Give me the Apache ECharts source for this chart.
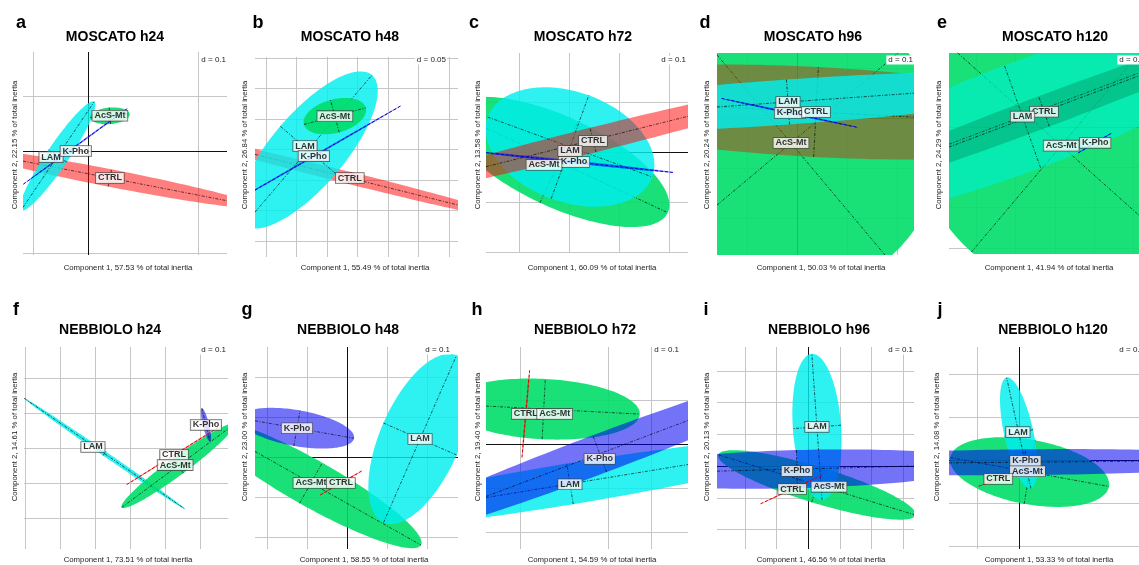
<!DOCTYPE html>
<html>
<head>
<meta charset="utf-8">
<script src="https://cdn.jsdelivr.net/npm/echarts@6/dist/echarts.min.js"></script>
<style>
html, body { margin: 0; padding: 0; background: #fff; }
#chart { width: 1139px; height: 565px; }
</style>
</head>
<body>
<div id="chart"></div>
<script>
// ---- data (axis units = multiples of d) ----
var panelLetters = ['a', 'b', 'c', 'd', 'e', 'f', 'g', 'h', 'i', 'j'];
var panelTitles = ['MOSCATO h24', 'MOSCATO h48', 'MOSCATO h72', 'MOSCATO h96', 'MOSCATO h120',
                   'NEBBIOLO h24', 'NEBBIOLO h48', 'NEBBIOLO h72', 'NEBBIOLO h96', 'NEBBIOLO h120'];
var comp1Pct = ['57.53', '55.49', '60.09', '50.03', '41.94', '73.51', '58.55', '54.59', '46.56', '53.33'];
var comp2Pct = ['22.15', '26.84', '13.58', '20.24', '24.29', '14.61', '23.00', '19.40', '20.13', '14.08'];
var dScale = ['0.1', '0.05', '0.1', '0.1', '0.1', '0.1', '0.1', '0.1', '0.1', '0.2'];
var groups = ['CTRL', 'LAM', 'K-Pho', 'AcS-Mt'];

var xRanges = [[-1.18, 2.53], [-2.36, 4.3], [-3.66, 0.38], [-1.6, 2.34], [-2.7, 2.16],
               [-4.03, 1.8], [-2.3, 2.78], [-1.78, 2.84], [-2.87, 3.34], [-1.67, 2.88]];
var yRanges = [[-1.89, 1.8], [-3.54, 3.02], [-2.02, 1.98], [-2.74, 1.3], [-3.16, 1.83],
               [-2.89, 2.89], [-2.3, 2.75], [-2.4, 2.22], [-2.62, 3.75], [-2.07, 2.63]];

// grey grid lines and black origin lines
var gridX = [[-1, 2], [-2, -1, 0, 1, 2, 3, 4], [-3, -2, -1, 0], [-1, 1, 2], [-2, -1, 0, 1, 2],
             [-4, -3, -2, -1, 0, 1], [-2, -1, 1, 2], [-1, 1, 2], [-2, -1, 1, 2, 3], [-1]];
var gridY = [[1, -1.85], [3, 2, 1, 0, -1, -2, -3], [1, -1, -2], [1, -1, -2], [1, -1, -2, -3],
             [2, 1, 0, -1, -2], [2, 1, -1, -2], [1, -1, -2], [3, 2, 1, -1, -2], [2, 1, -1, -2]];
var axisX = [[0], [], [], [0], [], [], [0], [], [0], [0]];
var axisY = [[0], [], [0], [0], [0], [], [0], [0], [0], [0]];

// ellipses: [group, cx, cy, semi-major, semi-minor, angle deg]  (drawing order)
var ellipses = [
  [[0, 0.4, -0.49, 2.8, 0.16, -11], [1, -0.55, -0.09, 1.19, 0.2, 56], [3, 0.4, 0.64, 0.36, 0.15, 5], [2, -0.22, 0.09, 1.18, 0.015, 36]],
  [[0, 0.75, -0.95, 6, 0.2, -14], [1, -0.62, -0.03, 3.23, 1.2, 49.5], [3, 0.26, 1.08, 1.05, 0.55, 15], [2, -0.43, -0.23, 3.3, 0.03, 30]],
  [[3, -2.2, -0.2, 2.4, 0.9, -25], [1, -1.98, 0.1, 1.75, 1.1, -20], [0, -1.52, 0.24, 5, 0.25, 14], [2, -1.9, -0.2, 2, 0.03, -6]],
  [[3, -0.12, -0.5, 3.02, 2.96, -50], [0, 0.38, 0.12, 6, 0.9, -3], [1, -0.18, 0.32, 6, 0.45, 4], [2, -0.14, 0.1, 1.4, 0.02, -12]],
  [[3, 0.17, -0.47, 4, 3.5, -41], [1, -0.82, 0.25, 7, 1.35, 20], [0, -0.27, 0.38, 7, 0.4, 20], [2, 1.04, -0.4, 0.5, 0.02, 30]],
  [[1, -1.73, -0.16, 2.79, 0.07, -34.6], [3, 0.37, -0.51, 2.0, 0.26, 36.5], [2, 1.17, 0.66, 0.49, 0.09, -76], [0, 0.26, -0.2, 1.6, 0.02, 32]],
  [[3, -0.9, -0.65, 3.16, 0.58, -29.4], [2, -1.25, 0.72, 1.45, 0.45, -10], [1, 1.83, 0.45, 2.28, 1.0, 66.4], [0, -0.15, -0.65, 0.6, 0.02, 30]],
  [[3, -0.46, 0.8, 2.2, 0.69, -3], [1, 0.14, -0.91, 6, 0.47, 9.3], [2, 0.82, -0.22, 6, 0.45, 20.6], [0, -0.87, 0.69, 1.0, 0.02, 85]],
  [[3, 0.28, -0.6, 3.25, 0.57, -17], [1, 0.28, 1.23, 2.31, 0.76, 94], [2, -0.35, -0.1, 6, 0.6, 1.5], [0, -0.5, -0.73, 1.1, 0.02, 25]],
  [[3, 0.26, -0.28, 1.93, 0.75, -10], [1, 0.0, 0.63, 1.32, 0.35, 102.7], [2, 0.16, -0.05, 6, 0.3, 0.5], [0, -0.49, -0.44, 0.5, 0.02, 20]]
];

// class labels: [group, x, y]
var labelPos = [
  [[0, 0.4, -0.49], [1, -0.67, -0.11], [2, -0.22, 0.0], [3, 0.4, 0.64]],
  [[1, -0.72, 0.1], [2, -0.43, -0.23], [0, 0.75, -0.95], [3, 0.26, 1.08]],
  [[0, -1.52, 0.22], [1, -1.98, 0.02], [2, -1.9, -0.2], [3, -2.5, -0.26]],
  [[1, -0.18, 0.32], [2, -0.14, 0.1], [0, 0.38, 0.12], [3, -0.12, -0.5]],
  [[0, -0.27, 0.37], [1, -0.82, 0.25], [3, 0.17, -0.47], [2, 1.04, -0.4]],
  [[1, -2.06, 0.03], [2, 1.17, 0.66], [0, 0.26, -0.2], [3, 0.29, -0.49]],
  [[1, 1.83, 0.45], [2, -1.25, 0.72], [3, -0.9, -0.65], [0, -0.15, -0.65]],
  [[0, -0.87, 0.69], [3, -0.21, 0.69], [2, 0.82, -0.34], [1, 0.14, -0.92]],
  [[1, 0.28, 1.23], [2, -0.35, -0.16], [0, -0.5, -0.73], [3, 0.66, -0.66]],
  [[1, -0.02, 0.65], [2, 0.16, -0.02], [3, 0.21, -0.26], [0, -0.49, -0.44]]
];

// ---- layout / styling ----
var plotBoxes = [[23, 52, 204, 203], [255, 57, 203, 200], [486, 53, 202, 200], [717, 53, 197, 202], [949, 53, 196, 201],
                 [24, 347, 204, 202], [255, 347, 203, 202], [486, 347, 202, 202], [717, 347, 197, 202], [949, 347, 196, 202]];
var letterXY = [[21, 23], [258, 23], [474, 23], [705, 23], [942, 23], [16, 310], [247, 310], [477, 310], [706, 310], [940, 310]];
var titleX = [115, 350, 583, 813, 1055, 110, 348, 585, 819, 1053];
var xNameX = [128, 365, 592, 821, 1049, 128, 364, 592, 821, 1049];
var yNameX = [15, 245, 478, 707, 939, 15, 245, 478, 707, 937];
var dRight = [227, 447, 687, 914, 1145, 227, 451, 680, 914, 1145];

var groupFill = ['rgba(255,0,0,0.5)', 'rgba(0,238,238,0.82)', 'rgba(0,0,240,0.55)', 'rgba(0,222,105,0.9)'];
var groupLine = ['#e00000', '#00b8c8', '#0000e0', '#00a040'];
// per-panel fill tweaks so the overlaps read like the printed figure
var fillOverride = {
  3: { 0: 'rgba(213,36,0,0.45)' },
  4: { 1: 'rgba(0,240,200,0.7)', 0: 'rgba(0,110,60,0.3)' }
};
var FONT = '"Liberation Sans", Arial, sans-serif';

function clipPoly(pts, r) {
  var bounds = [[0, r.x0, 1], [0, r.x1, -1], [1, r.y0, 1], [1, r.y1, -1]];
  var out = pts;
  bounds.forEach(function (bd) {
    var k = bd[0], lim = bd[1], s = bd[2];
    var inp = out;
    out = [];
    if (!inp.length) return;
    var prev = inp[inp.length - 1];
    inp.forEach(function (cur) {
      var ci = s * (cur[k] - lim) >= 0, pi = s * (prev[k] - lim) >= 0;
      if (ci !== pi) {
        var t = (lim - prev[k]) / (cur[k] - prev[k]);
        out.push([prev[0] + t * (cur[0] - prev[0]), prev[1] + t * (cur[1] - prev[1])]);
      }
      if (ci) out.push(cur);
      prev = cur;
    });
  });
  return out;
}

function clipSeg(p, q, r) {
  var t0 = 0, t1 = 1, dx = q[0] - p[0], dy = q[1] - p[1];
  var P = [-dx, dx, -dy, dy], Q = [p[0] - r.x0, r.x1 - p[0], p[1] - r.y0, r.y1 - p[1]];
  for (var i = 0; i < 4; i++) {
    if (P[i] === 0) { if (Q[i] < 0) return null; }
    else {
      var t = Q[i] / P[i];
      if (P[i] < 0) { if (t > t1) return null; if (t > t0) t0 = t; }
      else { if (t < t0) return null; if (t < t1) t1 = t; }
    }
  }
  return [[p[0] + t0 * dx, p[1] + t0 * dy], [p[0] + t1 * dx, p[1] + t1 * dy]];
}

function rectOf(cs) {
  return { x0: cs.x, y0: cs.y, x1: cs.x + cs.width, y1: cs.y + cs.height };
}

function gridRenderer(p, lines) {
  return function (params, api) {
    var l = lines[params.dataIndex];
    var a, b;
    if (l.dir === 'v') { a = api.coord([l.v, yRanges[p][0]]); b = api.coord([l.v, yRanges[p][1]]); }
    else { a = api.coord([xRanges[p][0], l.v]); b = api.coord([xRanges[p][1], l.v]); }
    var x1 = a[0], y1 = a[1], x2 = b[0], y2 = b[1];
    if (l.dir === 'v') { x1 = x2 = Math.round(x1) + 0.5; } else { y1 = y2 = Math.round(y1) + 0.5; }
    return {
      type: 'line',
      shape: { x1: x1, y1: y1, x2: x2, y2: y2 },
      style: { stroke: l.axis ? '#111' : '#c6c6c6', lineWidth: 1 }
    };
  };
}

function ellipseRenderer(p) {
  return function (params, api) {
    var e = ellipses[p][params.dataIndex];
    var r = rectOf(params.coordSys);
    var gi = e[0], cx = e[1], cy = e[2], a = e[3], b = e[4], th = e[5] * Math.PI / 180;
    var ct = Math.cos(th), st = Math.sin(th);
    function at(u, v) { return api.coord([cx + u * ct - v * st, cy + u * st + v * ct]); }
    var ring = [];
    for (var k = 0; k < 160; k++) {
      var f = 2 * Math.PI * k / 160;
      ring.push(at(a * Math.cos(f), b * Math.sin(f)));
    }
    var children = [];
    var poly = clipPoly(ring, r);
    var fill = (fillOverride[p] && fillOverride[p][gi]) || groupFill[gi];
    if (poly.length > 2) children.push({ type: 'polygon', shape: { points: poly }, style: { fill: fill } });
    var thin = b < 0.05;
    var segs = [[at(-a, 0), at(a, 0)]];
    if (!thin) segs.push([at(0, -b), at(0, b)]);
    segs.forEach(function (s) {
      var c = clipSeg(s[0], s[1], r);
      if (!c) return;
      children.push({
        type: 'line',
        shape: { x1: c[0][0], y1: c[0][1], x2: c[1][0], y2: c[1][1] },
        style: thin
          ? { stroke: groupLine[gi], lineWidth: 1, lineDash: [3, 2] }
          : { stroke: 'rgba(0,0,0,0.8)', lineWidth: 0.8, lineDash: [3, 1.5, 1, 1.5] }
      });
    });
    return { type: 'group', children: children };
  };
}

var grids = [], xAxes = [], yAxes = [], series = [], graphics = [];

plotBoxes.forEach(function (box, p) {
  grids.push({ left: box[0], top: box[1], width: box[2], height: box[3] });
  xAxes.push({ type: 'value', gridIndex: p, min: xRanges[p][0], max: xRanges[p][1], show: false });
  yAxes.push({ type: 'value', gridIndex: p, min: yRanges[p][0], max: yRanges[p][1], show: false });

  var lines = [];
  gridX[p].forEach(function (v) { lines.push({ dir: 'v', v: v, axis: false }); });
  gridY[p].forEach(function (v) { lines.push({ dir: 'h', v: v, axis: false }); });
  axisX[p].forEach(function (v) { lines.push({ dir: 'v', v: v, axis: true }); });
  axisY[p].forEach(function (v) { lines.push({ dir: 'h', v: v, axis: true }); });

  series.push({
    type: 'custom', xAxisIndex: p, yAxisIndex: p, silent: true, z: 1,
    renderItem: gridRenderer(p, lines),
    data: lines.map(function (l) { return l.dir === 'v' ? [l.v, yRanges[p][0]] : [xRanges[p][0], l.v]; })
  });
  series.push({
    type: 'custom', xAxisIndex: p, yAxisIndex: p, silent: true, z: 2,
    renderItem: ellipseRenderer(p),
    data: ellipses[p].map(function (e) { return [e[1], e[2]]; })
  });
  series.push({
    type: 'scatter', xAxisIndex: p, yAxisIndex: p, silent: true, z: 5,
    symbolSize: 1, itemStyle: { color: 'rgba(0,0,0,0)' },
    label: {
      show: true, position: 'inside', formatter: '{b}',
      fontFamily: FONT, fontSize: 9, fontWeight: 'bold', color: '#000',
      backgroundColor: '#fff', borderColor: '#444', borderWidth: 0.8, padding: [1, 2, 0, 2]
    },
    data: labelPos[p].map(function (l) { return { name: groups[l[0]], value: [l[1], l[2]] }; })
  });

  var row = p < 5 ? 0 : 1;
  graphics.push({
    type: 'text', x: letterXY[p][0], y: letterXY[p][1], z: 100,
    style: { text: panelLetters[p], font: 'bold 18px ' + FONT, fill: '#000', textAlign: 'center', textVerticalAlign: 'middle' }
  });
  graphics.push({
    type: 'text', x: titleX[p], y: row ? 330 : 37, z: 100,
    style: { text: panelTitles[p], font: 'bold 14px ' + FONT, fill: '#000', textAlign: 'center', textVerticalAlign: 'middle' }
  });
  graphics.push({
    type: 'text', x: xNameX[p], y: row ? 560 : 268, z: 100,
    style: { text: 'Component 1, ' + comp1Pct[p] + ' % of total inertia', font: '7.8px ' + FONT, fill: '#222', textAlign: 'center', textVerticalAlign: 'middle' }
  });
  graphics.push({
    type: 'text', x: yNameX[p], y: row ? 437 : 145, rotation: Math.PI / 2, z: 100,
    style: { text: 'Component 2, ' + comp2Pct[p] + ' % of total inertia', font: '7.8px ' + FONT, fill: '#222', textAlign: 'center', textVerticalAlign: 'middle' }
  });
  graphics.push({
    type: 'text', x: dRight[p], y: row ? 350 : 60, z: 100,
    style: { text: 'd = ' + dScale[p], font: '8px ' + FONT, fill: '#222', textAlign: 'right', textVerticalAlign: 'middle',
             backgroundColor: '#fff', padding: [1, 1, 0, 2] }
  });
});

var chart = echarts.init(document.getElementById('chart'));
chart.setOption({
  animation: false,
  backgroundColor: '#fff',
  grid: grids,
  xAxis: xAxes,
  yAxis: yAxes,
  series: series,
  graphic: graphics
});
</script>
</body>
</html>
